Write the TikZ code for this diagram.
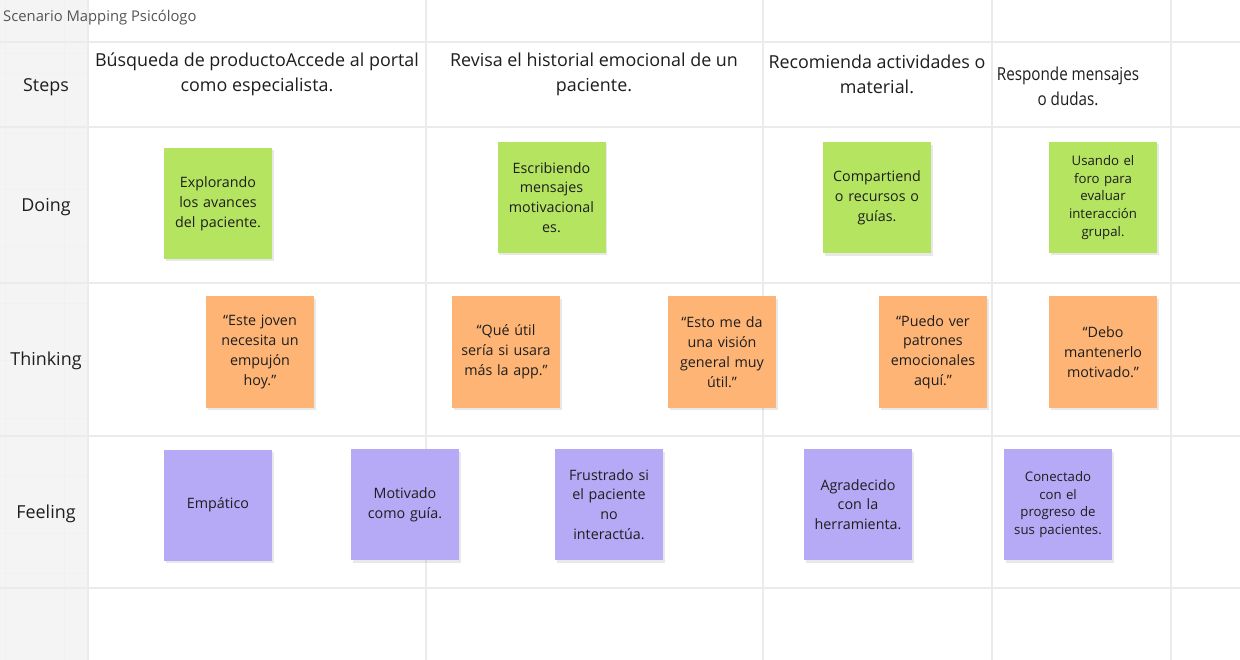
\documentclass[tikz,border=0pt]{standalone}
\usepackage{fontspec}
\setmainfont{Open Sans}
\usetikzlibrary{shadows}
\definecolor{gridc}{HTML}{EBEBEB}
\definecolor{leftbg}{HTML}{F4F4F4}
\definecolor{stgreen}{HTML}{B4E460}
\definecolor{storange}{HTML}{FDB475}
\definecolor{stpurple}{HTML}{B6A9F5}
\definecolor{txt}{HTML}{1E1E1E}
\definecolor{titlec}{HTML}{555555}
\tikzset{
  gridline/.style={draw=gridc, line width=1.2pt},
  faint/.style={draw=gridc!70, line width=0.8pt},
  rowlabel/.style={font=\fontsize{17.9}{22}\selectfont, text=txt, inner sep=0pt},
  steptext/.style={font=\fontsize{17.9}{25}\selectfont, text=txt, align=center, inner sep=0pt},
  sticky/.style={minimum width=108pt, minimum height=111pt, text width=104pt, align=center,
     inner sep=0pt, text=txt, font=\fontsize{14.3}{19.8}\selectfont,
     drop shadow={opacity=0.18, shadow xshift=1.5pt, shadow yshift=-2.5pt}},
  small/.style={font=\fontsize{13.2}{17.8}\selectfont},
  green/.style={sticky, fill=stgreen},
  orange/.style={sticky, fill=storange},
  purple/.style={sticky, fill=stpurple},
}
\begin{document}
\begin{tikzpicture}[x=1pt, y=-1pt]
\useasboundingbox (0,0) rectangle (1240,660);
\fill[white] (0,0) rectangle (1240,660);
\fill[leftbg] (0,0) rectangle (88,660);
% faint grid in left column
\foreach \yy in {53,73,133,189,246,303,360,418,476,533,573} {\draw[faint] (0,\yy) -- (88,\yy);}
\foreach \xx in {5,64} {\draw[faint] (\xx,0) -- (\xx,660);}
% main grid
\foreach \yy in {42,127,283,436,588} {\draw[gridline] (0,\yy) -- (1240,\yy);}
\foreach \xx in {88,426,763,992,1171} {\draw[gridline] (\xx,0) -- (\xx,660);}

\node[anchor=west, inner sep=0pt, text=titlec, font=\fontsize{14.8}{17}\selectfont] (title) at (3,17.5) {Scenario Mapping Psicólogo};

\node[rowlabel] (lsteps) at (46,87) {Steps};
\node[rowlabel] (ldoing) at (46,207) {Doing};
\node[rowlabel] (lthink) at (46,361) {Thinking};
\node[rowlabel] (lfeel) at (46,514) {Feeling};

\node[steptext] (s1) at (257,74.5) {Búsqueda de productoAccede al portal\\como especialista.};
\node[steptext] (s2) at (594,74.5) {Revisa el historial emocional de un\\paciente.};
\node[steptext] (s3) at (877,74.5) {Recomienda actividades o\\material.};
\node[steptext] (s4) at (1068,86.5) {\scalebox{0.85}[1]{Responde mensajes}\\\scalebox{0.85}[1]{o dudas.}};

% Doing
\node[green] (d1) at (218,203.5) {Explorando\\los avances\\del paciente.};
\node[green] (d2) at (551.5,197.5) {Escribiendo\\mensajes\\motivacional\\es.};
\node[green] (d3) at (877,198) {Compartiend\\o recursos o\\guías.};
\node[green, small] (d4) at (1103,197.5) {Usando el\\foro para\\evaluar\\interacción\\grupal.};

% Thinking
\node[orange] (t1) at (260,352) {“Este joven\\necesita un\\empujón\\hoy.”};
\node[orange] (t2) at (506,352) {“Qué útil\\sería si usara\\más la app.”};
\node[orange] (t3) at (722,352) {“Esto me da\\una visión\\general muy\\útil.”};
\node[orange] (t4) at (933,352) {“Puedo ver\\patrones\\emocionales\\aquí.”};
\node[orange] (t5) at (1103,352) {“Debo\\mantenerlo\\motivado.”};

% Feeling
\node[purple] (f1) at (218,505) {Empático};
\node[purple] (f2) at (405,504.5) {Motivado\\como guía.};
\node[purple] (f3) at (609,504.5) {Frustrado si\\el paciente\\no\\interactúa.};
\node[purple] (f4) at (858,504.5) {Agradecido\\con la\\herramienta.};
\node[purple, small] (f5) at (1058,504.5) {Conectado\\con el\\progreso de\\sus pacientes.};
\end{tikzpicture}
\end{document}
